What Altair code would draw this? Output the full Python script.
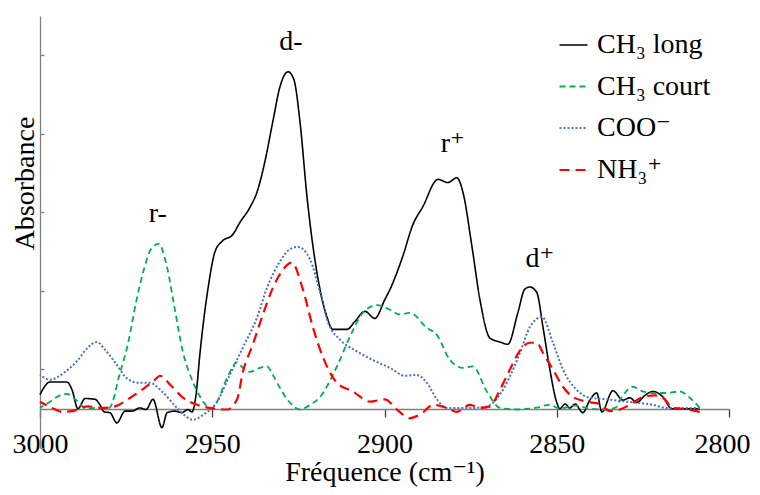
import altair as alt
import pandas as pd

# ---- data (frequency cm-1, absorbance in arbitrary units) ----
CH3_LONG = [(3000, 0.18), (2997.1, 0.34), (2992.2, 0.34), (2990.7, 0.24), (2989.0, 0.0),
            (2986.9, 0.13), (2984.0, 0.12), (2982.6, 0.05), (2981.4, -0.04), (2979.7, -0.05),
            (2977.7, -0.18), (2975.3, -0.03), (2973.3, -0.03), (2971.0, 0.01), (2969.2, -0.01),
            (2967.2, 0.12), (2964.6, -0.24), (2963.1, -0.05), (2960.8, -0.03), (2958.8, -0.05),
            (2957.1, -0.01), (2955.9, -0.04), (2954.7, 0.18), (2953.6, 0.69), (2951.2, 1.54),
            (2949.2, 2.0), (2947.2, 2.13), (2944.0, 2.22), (2942.0, 2.37), (2939.1, 2.56),
            (2937.0, 2.76), (2934.7, 3.15), (2932.4, 3.66), (2930.4, 4.09), (2928.0, 4.29),
            (2926.3, 4.19), (2924.5, 3.64), (2922.5, 2.70), (2919.6, 1.73), (2916.7, 1.17),
            (2915.0, 1.01), (2910.9, 1.01), (2908.6, 1.11), (2905.7, 1.24), (2902.8, 1.15),
            (2899.9, 1.39), (2898.4, 1.52), (2894.7, 1.94), (2891.8, 2.34), (2888.9, 2.57),
            (2884.5, 2.92), (2881.6, 2.88), (2879.0, 2.94), (2877.2, 2.75), (2874.6, 2.06),
            (2872.3, 1.39), (2869.4, 0.90), (2866.5, 0.85), (2864.2, 0.82), (2861.3, 1.22),
            (2859.3, 1.52), (2857.8, 1.55), (2855.8, 1.48), (2854.0, 1.04), (2852.0, 0.50),
            (2850.0, 0.08), (2849.1, 0.0), (2847.6, 0.06), (2846.2, 0.01), (2844.7, 0.06),
            (2842.4, -0.05), (2840.4, 0.11), (2838.4, 0.20), (2836.9, -0.04), (2833.7, 0.23),
            (2830.8, 0.11), (2828.8, 0.14), (2826.8, 0.08), (2824.4, 0.17), (2822.1, 0.22),
            (2819.2, 0.15), (2816.6, 0.0), (2808.5, 0.0)]

CH3_COURT = [(3000, 0.01), (2997.1, 0.09), (2994.2, 0.17), (2992.2, 0.19), (2989.8, 0.12),
             (2986.4, 0.0), (2984.0, 0.01), (2982.6, 0.01), (2980.5, 0.0), (2979.6, 0.02),
             (2977.0, 0.42), (2974.5, 0.82), (2972.0, 1.38), (2969.8, 1.78), (2967.8, 2.03),
             (2965.6, 2.10), (2963.1, 1.80), (2961.0, 1.30), (2958.5, 0.72), (2955.6, 0.34),
             (2953.5, 0.15), (2951.5, 0.03), (2950.4, 0.0), (2948.6, 0.09), (2945.7, 0.39),
             (2942.8, 0.59), (2941.1, 0.52), (2939.1, 0.47), (2936.2, 0.52), (2934.1, 0.54),
             (2932.4, 0.43), (2930.4, 0.27), (2927.5, 0.08), (2924.5, -0.01), (2921.6, 0.05),
             (2918.7, 0.15), (2913.8, 0.54), (2910.0, 0.92), (2906.3, 1.22), (2902.2, 1.32),
             (2898.4, 1.26), (2895.5, 1.20), (2892.6, 1.22), (2887.7, 1.03), (2884.8, 0.94),
             (2881.0, 0.62), (2877.2, 0.52), (2874.4, 0.54), (2870.3, 0.22), (2866.5, 0.01),
             (2861.6, -0.01), (2856.4, 0.01), (2852.0, 0.05), (2849.1, 0.0), (2844.7, 0.04),
             (2840.4, 0.0), (2836.0, -0.01), (2833.1, 0.01), (2830.8, 0.17), (2827.9, 0.28),
             (2825.0, 0.22), (2821.5, 0.20), (2818.0, 0.20), (2814.3, 0.22), (2811.4, 0.14),
             (2808.5, 0.01)]

COO = [(3000, 0.43), (2997.1, 0.37), (2992.7, 0.47), (2989.0, 0.62), (2986.1, 0.78),
       (2983.5, 0.85), (2981.1, 0.75), (2978.2, 0.59), (2975.3, 0.41), (2971.6, 0.33),
       (2968.1, 0.33), (2964.6, 0.22), (2960.2, 0.01), (2955.6, -0.14), (2952.7, -0.08),
       (2948.6, 0.09), (2944.9, 0.43), (2941.1, 0.78), (2937.0, 1.16), (2934.1, 1.54),
       (2930.4, 1.87), (2927.5, 2.03), (2925.1, 2.06), (2921.6, 1.90), (2918.7, 1.48),
       (2916.4, 1.10), (2912.9, 0.88), (2908.0, 0.73), (2903.4, 0.62), (2898.4, 0.52),
       (2894.1, 0.42), (2890.6, 0.43), (2887.7, 0.33), (2884.8, 0.12), (2881.9, 0.01),
       (2874.3, 0.01), (2870.3, 0.03), (2866.5, 0.18), (2863.6, 0.41), (2860.7, 0.71),
       (2857.8, 1.04), (2854.3, 1.17), (2851.1, 0.84), (2848.2, 0.50), (2844.2, 0.24),
       (2840.4, 0.14), (2835.5, 0.12), (2829.7, 0.09), (2822.1, 0.05), (2818.0, 0.01),
       (2808.5, 0.01)]

NH3 = [(3000, 0.09), (2996.5, 0.01), (2993.6, -0.04), (2990.7, -0.03), (2986.1, 0.03),
       (2982.0, 0.01), (2978.2, 0.03), (2974.5, 0.12), (2970.4, 0.24), (2966.6, 0.37),
       (2965.2, 0.42), (2962.3, 0.31), (2958.5, 0.14), (2954.4, 0.05), (2950.7, 0.01),
       (2945.7, -0.01), (2942.8, 0.12), (2941.1, 0.47), (2938.2, 0.82), (2935.3, 1.20),
       (2932.4, 1.54), (2929.8, 1.75), (2926.9, 1.86), (2923.7, 1.52), (2920.8, 1.04),
       (2917.9, 0.66), (2913.8, 0.33), (2909.2, 0.22), (2904.2, 0.09), (2899.9, 0.12),
       (2896.4, -0.01), (2892.6, -0.12), (2888.9, -0.05), (2886.0, 0.05), (2881.9, 0.01),
       (2879.0, -0.04), (2875.2, 0.05), (2872.3, 0.01), (2869.4, 0.03), (2866.5, 0.24),
       (2863.6, 0.50), (2860.7, 0.74), (2857.8, 0.84), (2855.8, 0.84), (2854.0, 0.71),
       (2851.1, 0.50), (2848.2, 0.28), (2845.3, 0.15), (2841.3, 0.09), (2837.5, 0.06),
       (2834.6, -0.03), (2831.7, -0.01), (2828.8, 0.05), (2825.0, 0.15), (2821.5, 0.17),
       (2818.6, 0.12), (2816.6, 0.01), (2813.7, 0.0), (2808.5, -0.04)]

SERIES_NAMES = ["CH₃ long", "CH₃ court", "COO⁻", "NH₃⁺"]
SERIES_COLORS = ["#000000", "#00B050", "#4472C4", "#FF0000"]
SERIES_DASHES = [[1, 0], [6, 4], [2, 2], [10, 6]]
SERIES_WIDTHS = [1.6, 2.2, 2.0, 2.6]

PEAK_LABELS = ["d-", "r-", "r⁺", "d⁺"]
PEAK_FREQ = [2927.2, 2965.8, 2880.2, 2854.9]
PEAK_ABS = [4.57, 2.38, 3.27, 1.80]

X_TICKS = [3000, 2950, 2900, 2850, 2800]
Y_TICKS = [-0.5, 0.5, 1.5, 2.5, 3.5, 4.5]

FONT = "Liberation Serif, Times New Roman, DejaVu Serif, serif"

rows = []
for name, pts in zip(SERIES_NAMES, [CH3_LONG, CH3_COURT, COO, NH3]):
    for f, a in pts:
        rows.append({"freq": f, "abs": a, "serie": name})
df = pd.DataFrame(rows)

labels_df = pd.DataFrame({"label": PEAK_LABELS, "freq": PEAK_FREQ, "abs": PEAK_ABS})

W, H = 689, 432

x_scale = alt.Scale(domain=[2800, 3000], reverse=True, nice=False, zero=False)
y_scale = alt.Scale(domain=[-0.5, 5.0], nice=False, zero=False)

lines = alt.Chart(df).mark_line(interpolate="monotone").encode(
    x=alt.X("freq:Q", scale=x_scale,
            axis=alt.Axis(values=X_TICKS, orient="bottom", offset=-39, tickSize=8,
                          labelPadding=13, labelFlush=False, labelOverlap=False,
                          labelOffset={"condition": {"test": "datum.value == 2800", "value": -7},
                                       "value": 0},
                          labelFont=FONT, labelFontSize=28, labelColor="#000000",
                          title="Fréquence (cm⁻¹)", titleFont=FONT, titleFontSize=28,
                          titleFontWeight="normal", titleColor="#000000",
                          titleBaseline="alphabetic", titleY=71,
                          grid=False, domainColor="#808080", tickColor="#404040",
                          domainWidth=1.3, tickWidth=1.3, format="d")),
    y=alt.Y("abs:Q", scale=y_scale,
            axis=alt.Axis(values=Y_TICKS, orient="right", offset=-W, tickSize=4,
                          labels=False, grid=False,
                          title="Absorbance", titleFont=FONT, titleFontSize=28,
                          titleFontWeight="normal", titleColor="#000000",
                          titleAngle=270, titleX=-7, titleY=167, titleAlign="center",
                          titleBaseline="alphabetic",
                          domainColor="#808080", tickColor="#808080",
                          domainWidth=1.3, tickWidth=1.3)),
    color=alt.Color("serie:N", scale=alt.Scale(domain=SERIES_NAMES, range=SERIES_COLORS),
                    legend=alt.Legend(title=None)),
    strokeDash=alt.StrokeDash("serie:N", scale=alt.Scale(domain=SERIES_NAMES, range=SERIES_DASHES),
                              legend=alt.Legend(title=None)),
    strokeWidth=alt.StrokeWidth("serie:N", scale=alt.Scale(domain=SERIES_NAMES, range=SERIES_WIDTHS),
                                legend=None),
    detail="serie:N",
    order="freq:Q",
)

texts = alt.Chart(labels_df).mark_text(font=FONT, fontSize=28, baseline="alphabetic",
                                       align="center", color="#000000").encode(
    x=alt.X("freq:Q", scale=x_scale),
    y=alt.Y("abs:Q", scale=y_scale),
    text="label:N",
)

chart = alt.layer(lines, texts).properties(
    width=W, height=H,
    autosize=alt.AutoSizeParams(type="none"),
    padding={"left": 32, "top": 8, "right": 23, "bottom": 39},
).configure_view(stroke=None).configure_legend(
    orient="none", legendX=518, legendY=14, symbolType="stroke", symbolSize=784,
    symbolStrokeWidth=2, labelFont=FONT, labelFontSize=28, labelColor="#000000",
    labelOffset=8, rowPadding=12.5, padding=0, labelLimit=400,
)

chart.save("out.html", embed_options={"renderer": "svg", "actions": False})
